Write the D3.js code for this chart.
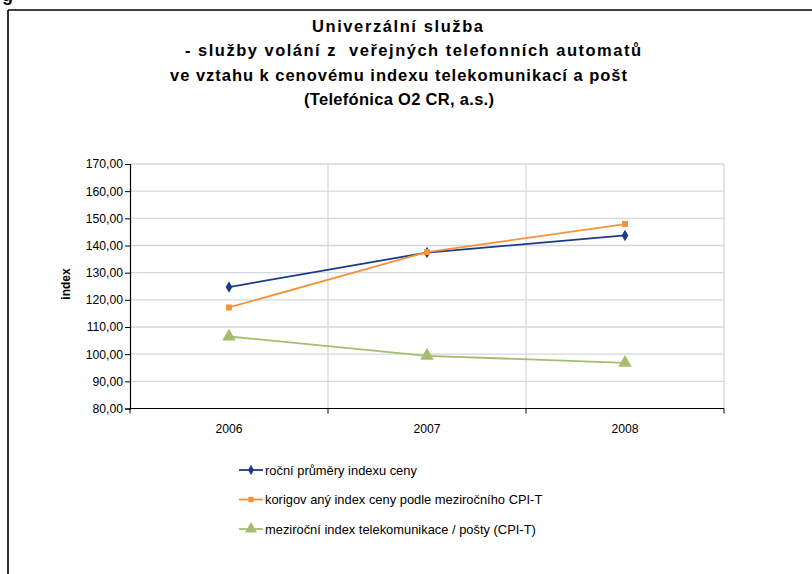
<!DOCTYPE html>
<html><head><meta charset="utf-8">
<script src="https://cdn.jsdelivr.net/npm/d3@7"></script>
<style>
html,body{margin:0;padding:0;background:#fff;}
svg{display:block;font-family:"Liberation Sans",Arial,sans-serif;}
</style></head>
<body>
<svg id="chart" width="812" height="574"></svg>
<script>
const years = ["2006","2007","2008"];
const annualAvg = [124.7, 137.4, 143.7];
const corrected = [117.2, 137.6, 147.9];
const cpiT = [106.5, 99.4, 96.8];
const yTicks = [80,90,100,110,120,130,140,150,160,170];
const titleLines = ["Univerzální služba","- služby volání z  veřejných telefonních automatů","ve vztahu k cenovému indexu telekomunikací a pošt","(Telefónica O2 CR, a.s.)"];
const seriesNames = ["roční průměry  indexu ceny","korigov aný index ceny  podle meziročního CPI-T","meziroční index telekomunikace / pošty  (CPI-T)"];

const svg = d3.select("#chart");
const colors = ["#1b3a8c","#f7923a","#a5bd6c"];
const symbols = [d3.symbolDiamond, d3.symbolSquare, d3.symbolTriangle];
const symSizes = [38, 36, 80];

// frame
svg.append("line").attr("x1",8).attr("x2",812).attr("y1",10).attr("y2",10).attr("stroke","#000").attr("stroke-width",1.6);
svg.append("line").attr("x1",8).attr("x2",8).attr("y1",10).attr("y2",574).attr("stroke","#000").attr("stroke-width",1.6);
svg.append("text").attr("x",2).attr("y",1).attr("font-size",18).attr("font-weight","bold").text("g");

// title (layout: start x and rendered width per line)
const titleLayout = [[312,171],[185,456],[170,457],[304,190]];
svg.append("g").selectAll("text").data(titleLines).join("text")
  .attr("x",(d,i)=>titleLayout[i][0]).attr("y",(d,i)=>32+i*24.3)
  .attr("textLength",(d,i)=>titleLayout[i][1]).attr("lengthAdjust","spacing")
  .attr("font-size",16.5).attr("font-weight","bold").attr("fill","#000")
  .style("white-space","pre")
  .text(d=>d);

const x0 = 130, x1 = 724, yTop = 164, yBot = 408.5;
const x = d3.scaleBand().domain(years).range([x0,x1]);
const y = d3.scaleLinear().domain([80,170]).range([yBot,yTop]);

// grid
const g = svg.append("g");
g.selectAll("line.h").data(yTicks.filter(t=>t>80)).join("line")
  .attr("x1",x0).attr("x2",x1).attr("y1",d=>y(d)).attr("y2",d=>y(d))
  .attr("stroke","#d3d8e0").attr("stroke-width",1.3);
g.selectAll("line.v").data(years).join("line")
  .attr("x1",d=>x(d)+x.bandwidth()).attr("x2",d=>x(d)+x.bandwidth())
  .attr("y1",yTop).attr("y2",yBot)
  .attr("stroke","#d3d8e0").attr("stroke-width",1.3);

// y axis
const yAxis = d3.axisLeft(y).tickValues(yTicks).tickSize(5).tickPadding(2)
  .tickFormat(d=>d3.format(".2f")(d).replace(".",","));
const ya = svg.append("g").attr("transform",`translate(${x0},0)`).call(yAxis);
ya.select(".domain").attr("stroke","#000").attr("stroke-width",1.2);
ya.selectAll(".tick line").attr("stroke","#000");
ya.selectAll("text").attr("font-size",12.2).attr("fill","#000").attr("font-family","Liberation Sans, Arial, sans-serif");

// x axis
const bounds = [x0].concat(years.map(d=>x(d)+x.bandwidth()));
const xa = svg.append("g");
xa.append("line").attr("x1",x0).attr("x2",x1).attr("y1",yBot).attr("y2",yBot).attr("stroke","#000").attr("stroke-width",1.2);
xa.selectAll("line.t").data(bounds).join("line").attr("x1",d=>d).attr("x2",d=>d).attr("y1",yBot).attr("y2",yBot+5).attr("stroke","#000");
xa.selectAll("text").data(years).join("text")
  .attr("x",d=>x(d)+x.bandwidth()/2).attr("y",yBot+24).attr("text-anchor","middle")
  .attr("font-size",12.2).attr("fill","#000").text(d=>d);

// y label
svg.append("text").attr("transform","translate(70,284) rotate(-90)").attr("text-anchor","middle")
  .attr("font-size",12).attr("font-weight","bold").text("index");

// series
const allSeries = [annualAvg, corrected, cpiT];
const cx = d=>x(d)+x.bandwidth()/2;
allSeries.forEach((vals,si)=>{
  const line = d3.line().x((v,i)=>cx(years[i])).y(v=>y(v));
  svg.append("path").datum(vals).attr("d",line).attr("fill","none")
    .attr("stroke",colors[si]).attr("stroke-width",1.8);
});
allSeries.forEach((vals,si)=>{
  svg.append("g").selectAll("path").data(vals).join("path")
    .attr("transform",(v,i)=>`translate(${cx(years[i])},${y(v)})`)
    .attr("d",d3.symbol().type(symbols[si]).size(symSizes[si]))
    .attr("fill",colors[si]);
});

// legend
const lg = svg.append("g");
const rows = [470, 499.5, 529];
seriesNames.forEach((name,i)=>{
  lg.append("line").attr("x1",239).attr("x2",263).attr("y1",rows[i]).attr("y2",rows[i]).attr("stroke",colors[i]).attr("stroke-width",1.8);
  lg.append("path").attr("transform",`translate(251,${rows[i]})`)
    .attr("d",d3.symbol().type(symbols[i]).size(symSizes[i]*0.8)).attr("fill",colors[i]);
  lg.append("text").attr("x",265).attr("y",rows[i]+4.5).attr("font-size",12.9).attr("fill","#000").text(name);
});
</script>
</body></html>
